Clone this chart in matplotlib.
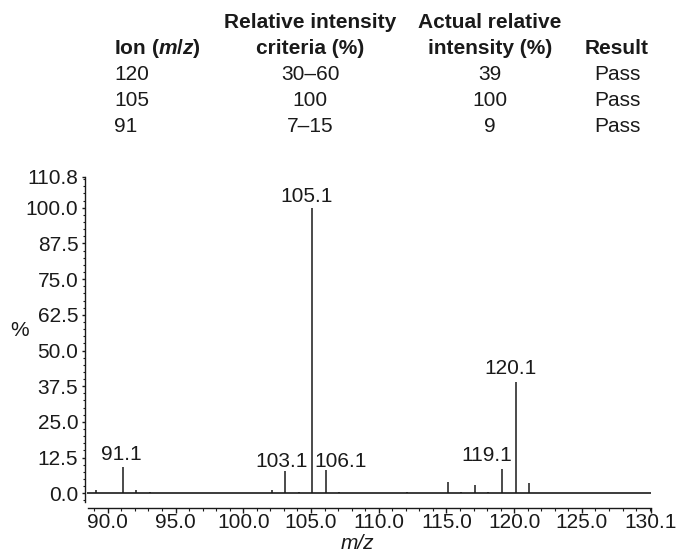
import matplotlib
matplotlib.use("Agg")
import matplotlib.pyplot as plt
from matplotlib.ticker import MultipleLocator

plt.rcParams['font.family'] = ['Liberation Sans', 'DejaVu Sans']
plt.rcParams['mathtext.fontset'] = 'custom'
plt.rcParams['mathtext.rm'] = 'Liberation Sans:bold'
plt.rcParams['mathtext.it'] = 'Liberation Sans:italic:bold'

# ---------------- data ----------------
mz = [89.1, 91.1, 92.1, 93.1, 102.1, 103.1, 104.1, 105.1, 106.1, 107.1,
      112.1, 115.1, 116.1, 117.1, 118.1, 119.1, 120.1, 121.1]
intensity = [1.2, 9.3, 1.2, 0.6, 1.3, 7.7, 0.5, 100.0, 8.1, 0.4,
             0.3, 3.8, 0.6, 2.9, 0.5, 8.4, 38.9, 3.7]
labelled_mz = [91.1, 103.1, 105.1, 106.1, 119.1, 120.1]

x_ticks = [90.0, 95.0, 100.0, 105.0, 110.0, 115.0, 120.0, 125.0, 130.1]
x_tick_labels = ["90.0", "95.0", "100.0", "105.0", "110.0", "115.0",
                 "120.0", "125.0", "130.1"]
y_ticks = [0.0, 12.5, 25.0, 37.5, 50.0, 62.5, 75.0, 87.5, 100.0, 110.8]
y_tick_labels = ["0.0", "12.5", "25.0", "37.5", "50.0", "62.5", "75.0",
                 "87.5", "100.0", "110.8"]

header_line1 = ["", "Relative intensity", "Actual relative", ""]
header_line2 = ["Ion ($m/z$)", "criteria (%)", "intensity (%)", "Result"]
ions = ["120", "105", "91"]
criteria = ["30\u201360", "100", "7\u201315"]
actual = ["39", "100", "9"]
result = ["Pass", "Pass", "Pass"]

# ---------------- layout / style ----------------
W, H = 678, 554
fig = plt.figure(figsize=(W / 100, H / 100), dpi=100)

def fx(x):
    return x / W

def fy(y):
    return 1 - y / H

ax_left, ax_right, ax_top, ax_bottom = 87.5, 651.0, 176.9, 502.0
ax = fig.add_axes([fx(ax_left), fy(ax_bottom),
                   (ax_right - ax_left) / W, (ax_bottom - ax_top) / H])

ink = '#1a1a1a'
ax.vlines(mz, 0, intensity, color=ink, lw=1.1)
ax.axhline(0, color=ink, lw=1.2)

ax.set_xlim(88.5, 130.1)
ax.set_ylim(-3.05, 110.8)

for s in ['top', 'right']:
    ax.spines[s].set_visible(False)
ax.spines['left'].set_position(('outward', 1.8))
ax.spines['bottom'].set_position(('outward', 4.1))
for s in ['left', 'bottom']:
    ax.spines[s].set_linewidth(1.0)
    ax.spines[s].set_color(ink)

ax.set_xticks(x_ticks, x_tick_labels)
ax.set_yticks(y_ticks, y_tick_labels)
ax.xaxis.set_minor_locator(MultipleLocator(1.0))
ax.yaxis.set_minor_locator(MultipleLocator(2.5))
ax.tick_params(axis='x', which='major', direction='out', length=3.5, width=1.0,
               pad=0.5, labelsize=15, colors=ink)
ax.tick_params(axis='x', which='minor', direction='out', length=2.5, width=0.8,
               colors=ink)
ax.tick_params(axis='y', which='major', direction='out', length=2.2, width=1.0,
               pad=2.6, labelsize=15, colors=ink)
ax.tick_params(axis='y', which='minor', direction='out', length=1.2, width=0.8,
               colors=ink)

# peak labels (offsets in points: dx, dy)
label_offsets = {91.1: (-0.7, 4.5), 103.1: (-2.6, 3.0), 105.1: (-4.3, 4.0),
                 106.1: (10.8, 2.5), 119.1: (-10.8, 6.0), 120.1: (-3.6, 6.0)}
for m, v in zip(mz, intensity):
    if m in labelled_mz:
        dx, dy = label_offsets[m]
        ax.annotate(f"{m:.1f}", xy=(m, v), xytext=(dx, dy),
                    textcoords='offset points', ha='center', va='baseline',
                    fontsize=15, color=ink)

# axis titles
fig.text(fx(20), fy(331), "%", ha='center', va='center', fontsize=15, color=ink)
fig.text(fx(357), fy(549), "m/z", ha='center', va='baseline', fontsize=15,
         fontstyle='italic', color=ink)

# table
col_x = [114, 310, 490, 617]
col_ha = ['left', 'center', 'center', 'center']
base_h1, base_h2 = 28.3, 54.3
row_base = [80.0, 106.0, 132.0]
for i in range(4):
    if header_line1[i]:
        fig.text(fx(col_x[i]), fy(base_h1), header_line1[i], ha=col_ha[i],
                 va='baseline', fontsize=15, fontweight='bold', color=ink)
    fig.text(fx(col_x[i]), fy(base_h2), header_line2[i], ha=col_ha[i],
             va='baseline', fontsize=15, fontweight='bold', color=ink)
columns = [ions, criteria, actual, result]
for r in range(3):
    for i, col in enumerate(columns):
        fig.text(fx(col_x[i]), fy(row_base[r]), col[r], ha=col_ha[i],
                 va='baseline', fontsize=15, color=ink)

fig.savefig("out.png", dpi=100)
